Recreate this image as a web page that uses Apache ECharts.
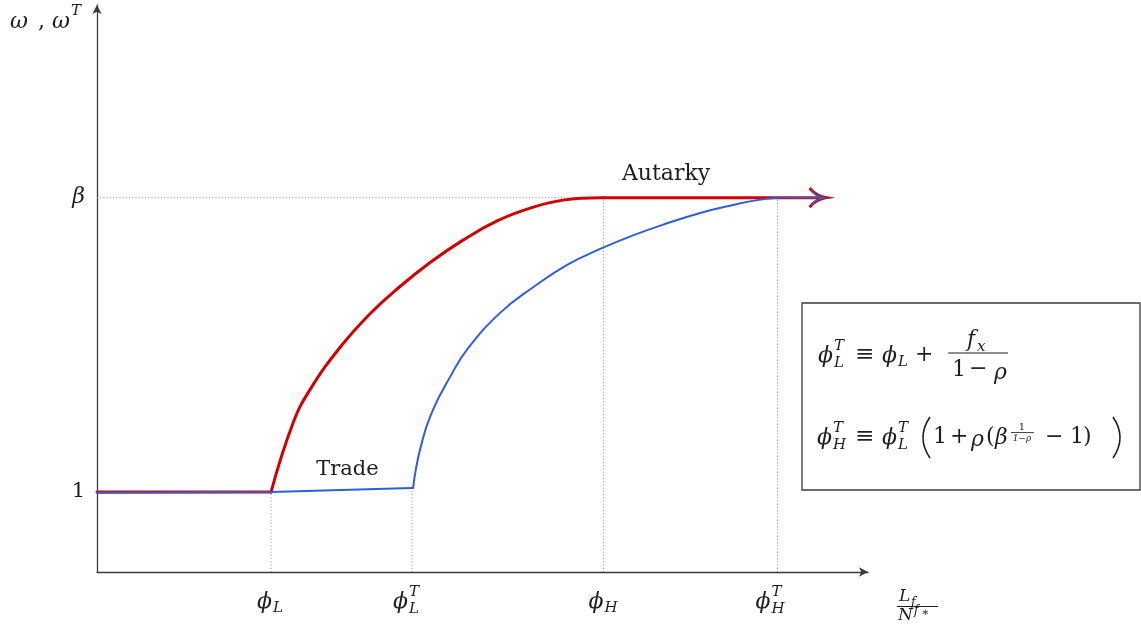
<!DOCTYPE html>
<html>
<head>
<meta charset="utf-8">
<script src="https://cdn.jsdelivr.net/npm/echarts@6/dist/echarts.min.js"></script>
<style>
  html, body { margin: 0; padding: 0; background: #ffffff; }
  #chart { width: 1141px; height: 631px; }
</style>
</head>
<body>
<div id="chart"></div>
<script>
// Thresholds on the horizontal axis (L_f / N^{f*})
const phiL = 1.00, phiLT = 1.81, phiH = 2.91, phiHT = 3.91;
const xMax = 4.43, xEnd = 4.14;
// Wage levels on the vertical axis
const beta = 4.68, yMax = 7.09;

// Autarky wage schedule ω (red)
const autFlatX = [0, phiL];
const autFlatY = [1.00, 1.00];
const autCurveX = [1.000, 1.126, 1.224, 1.397, 1.569, 1.741, 1.914, 2.103, 2.299, 2.489, 2.678, 2.910];
const autCurveY = [1.00, 1.86, 2.28, 2.81, 3.23, 3.57, 3.87, 4.15, 4.39, 4.55, 4.65, 4.68];

// Trade wage schedule ω^T (blue)
const trdFlatX = [0, phiL, phiLT];
const trdFlatY = [0.99, 1.00, 1.05];
const trdCurveX = [1.816, 1.856, 1.931, 2.029, 2.126, 2.316, 2.506, 2.701, 2.891, 3.080, 3.276, 3.466, 3.655, 3.793, 3.910];
const trdCurveY = [1.05, 1.53, 2.03, 2.44, 2.78, 3.24, 3.56, 3.84, 4.04, 4.21, 4.36, 4.49, 4.59, 4.65, 4.68];

// Tick labels
const yTickValues = [1, beta];
const yTickLabels = ['1', 'β'];
const xTickValues = [phiL, phiLT, phiH, phiHT];
const xTickSubs = ['L', 'L', 'H', 'H'];
const xTickSups = ['', 'T', '', 'T'];

const RED = '#d20000';
const BLUE = '#2f5ed8';
const GUIDE = '#8a8a8a';
const AXIS = '#3a3a3a';
const INK = '#1e1e1e';
const SERIF = "'DejaVu Serif', 'Liberation Serif', serif";

const pairs = (xs, ys) => xs.map((x, i) => [x, ys[i]]);
const arrowHead = 'path://M0,0 C4,5 9,8 15,9 C9,10 4,13 0,18';

function straight(data, color, width, z) {
  return {
    type: 'line', data, symbol: 'none',
    lineStyle: { color, width, cap: 'round', join: 'round' },
    itemStyle: { color }, z, silent: true, animation: false
  };
}
// Smooth curve through the sampled points, projected through the cartesian axes
function smoothCurve(xs, ys, color, width, z) {
  return {
    type: 'custom', coordinateSystem: 'cartesian2d', silent: true, animation: false, z,
    data: pairs(xs, ys), encode: { x: 0, y: 1 },
    renderItem: (params, api) => {
      if (params.dataIndex !== 0) return;
      const pts = xs.map((x, i) => api.coord([x, ys[i]]));
      return {
        type: 'polyline',
        shape: { points: pts, smooth: 0.45 },
        style: { stroke: color, lineWidth: width, fill: null, lineCap: 'round', lineJoin: 'round' }
      };
    }
  };
}
function arrowRun(x0, color, width, size, z) {
  const s = straight([
    [x0, beta],
    { value: [xEnd, beta], symbol: arrowHead, symbolSize: size,
      itemStyle: { color: 'rgba(0,0,0,0)', borderColor: color, borderWidth: width } }
  ], color, width, z);
  s.showSymbol = true;
  return s;
}
function guide(a, b) {
  return {
    type: 'line', data: [a, b], symbol: 'none', silent: true, animation: false, z: 1,
    lineStyle: { color: GUIDE, width: 1, type: [1, 2.2] }
  };
}

const series = [
  guide([0, beta], [phiH, beta]),
  guide([phiL, 0], [phiL, autFlatY[1]]),
  guide([phiLT, 0], [phiLT, trdFlatY[2]]),
  guide([phiH, 0], [phiH, beta]),
  guide([phiHT, 0], [phiHT, beta]),
  straight(pairs(autFlatX, autFlatY), RED, 3, 3),
  smoothCurve(autCurveX, autCurveY, RED, 3, 3),
  arrowRun(phiH, RED, 3, [16, 19], 3),
  straight(pairs(trdFlatX, trdFlatY), BLUE, 2, 4),
  smoothCurve(trdCurveX, trdCurveY, BLUE, 2, 4),
  arrowRun(phiHT, BLUE, 1.4, [13, 15], 4)
];

const chart = echarts.init(document.getElementById('chart'), null, { renderer: 'canvas' });
chart.setOption({
  backgroundColor: '#ffffff',
  animation: false,
  grid: { left: 97, right: 273, top: 5, bottom: 59 },
  xAxis: {
    type: 'value', min: 0, max: xMax,
    axisLine: { show: true, onZero: false, symbol: ['none', 'arrow'], symbolSize: [7, 9],
      lineStyle: { color: AXIS, width: 1.3 } },
    axisTick: { show: false }, splitLine: { show: false }, axisLabel: { show: false }
  },
  yAxis: {
    type: 'value', min: 0, max: yMax,
    axisLine: { show: true, onZero: false, symbol: ['none', 'arrow'], symbolSize: [7, 9],
      lineStyle: { color: AXIS, width: 1.3 } },
    axisTick: { show: false }, splitLine: { show: false },
    axisLabel: {
      show: true, margin: 12, customValues: yTickValues,
      formatter: v => {
        const i = yTickValues.findIndex(t => Math.abs(t - v) < 1e-9);
        return i === 1 ? '{it|' + yTickLabels[i] + '}' : '{rm|' + yTickLabels[Math.max(i, 0)] + '}';
      },
      rich: {
        it: { fontFamily: SERIF, fontStyle: 'italic', fontSize: 22, color: INK },
        rm: { fontFamily: SERIF, fontSize: 21, color: INK }
      }
    }
  },
  series
});

// ---- math typesetting with graphic text pieces ----
function t(x, y, s, size, italic, align) {
  return {
    type: 'text', x, y, silent: true, z: 10,
    style: { text: s, fontFamily: SERIF, fontSize: size, fontStyle: italic ? 'italic' : 'normal',
      fill: INK, align: align || 'left', verticalAlign: 'middle' }
  };
}
function rule(x1, x2, y, w) {
  return { type: 'line', silent: true, z: 10, shape: { x1, y1: y, x2, y2: y },
    style: { stroke: INK, lineWidth: w || 1 } };
}
function paren(xEdge, xMid, yTop, yBot) {
  return { type: 'bezierCurve', silent: true, z: 10,
    shape: { x1: xEdge, y1: yTop, x2: xEdge, y2: yBot, cpx1: xMid, cpy1: (yTop + yBot) / 2 },
    style: { stroke: INK, lineWidth: 1.6, fill: 'none' } };
}
// ϕ with a subscript and optional superscript; right edge of ϕ at x
function phi(x, y, sub, sup) {
  const out = [t(x, y, 'ϕ', 22, true, 'right')];
  if (sup) {
    out.push(t(x + 1, y - 10, sup, 15, true));
    out.push(t(x + 1, y + 7, sub, 15, true));
  } else {
    out.push(t(x + 1, y + 6, sub, 15, true));
  }
  return out;
}

const els = [];
const P = (x, y) => chart.convertToPixel({ gridIndex: 0 }, [x, y]);
const base = P(0, 0);
const xLabelShift = [1, -4, 0, -7];
xTickValues.forEach((v, i) => {
  const X = P(v, 0)[0];
  els.push(...phi(X + xLabelShift[i], base[1] + 30, xTickSubs[i], xTickSups[i]));
});

// Axis title on the horizontal axis: L_f / N^{f*}
const xa = P(xMax, 0);
const fx = xa[0] + 30;
els.push(t(fx + 1, base[1] + 25, 'L', 17, true));
els.push(t(fx + 13, base[1] + 31, 'f', 12, true));
els.push(rule(fx - 1, fx + 40, base[1] + 34.5, 1));
els.push(t(fx, base[1] + 44, 'N', 17, true));
els.push(t(fx + 16, base[1] + 39, 'f', 12, true));
els.push(t(fx + 23, base[1] + 41, '∗', 12, false));

// Axis title on the vertical axis: ω , ω^T
els.push(t(10, 22, 'ω', 22, true));
els.push(t(38, 22, ',', 22, false));
els.push(t(52, 22, 'ω', 22, true));
els.push(t(71, 11, 'T', 15, true));

// Curve names
const aut = P(phiH + 0.36, beta);
els.push(t(aut[0], aut[1] - 23, 'Autarky', 22, false, 'center'));
const trd = P((phiL + phiLT) / 2, 1);
els.push(t(trd[0] + 6, trd[1] - 22, 'Trade', 21, false, 'center'));

// Definitions box
els.push({ type: 'rect', silent: true, z: 9,
  shape: { x: 802, y: 303, width: 338, height: 187 },
  style: { fill: '#ffffff', stroke: AXIS, lineWidth: 1.3 } });

// ϕ_L^T ≡ ϕ_L + f_x / (1 − ρ)
const y1 = 356;
els.push(...phi(833, y1, 'L', 'T'));
els.push(t(855, y1 - 1, '≡', 23, false));
els.push(...phi(897, y1, 'L'));
els.push(t(915, y1 - 1, '+', 22, false));
els.push(t(967, 340, 'f', 22, true));
els.push(t(977, 347, 'x', 15, true));
els.push(rule(948, 1008, 353, 1.1));
els.push(t(952, 370, '1', 22, false));
els.push(t(969, 369, '−', 22, false));
els.push(t(994, 373, 'ρ', 22, true));

// ϕ_H^T ≡ ϕ_L^T (1 + ρ(β^{1/(1−ρ)} − 1))
const y2 = 438;
els.push(...phi(832, y2, 'H', 'T'));
els.push(t(855, y2 - 1, '≡', 23, false));
els.push(...phi(897, y2, 'L', 'T'));
els.push(paren(930, 916, 417, 458));
els.push(t(933, y2 - 1, '1', 22, false));
els.push(t(950, y2 - 1, '+', 22, false));
els.push(t(971, y2 + 2, 'ρ', 22, true));
els.push(t(986, y2 - 1, '(', 22, false));
els.push(t(995, y2, 'β', 22, true));
els.push(t(1022, 427, '1', 10, false, 'center'));
els.push(rule(1011, 1034, 432.5, 0.8));
els.push(t(1022, 439, '1−ρ', 9, true, 'center'));
els.push(t(1045, y2 - 1, '−', 22, false));
els.push(t(1070, y2 - 1, '1', 22, false));
els.push(t(1083, y2 - 1, ')', 22, false));
els.push(paren(1113, 1127, 417, 458));

chart.setOption({ graphic: { elements: els } });
</script>
</body>
</html>
